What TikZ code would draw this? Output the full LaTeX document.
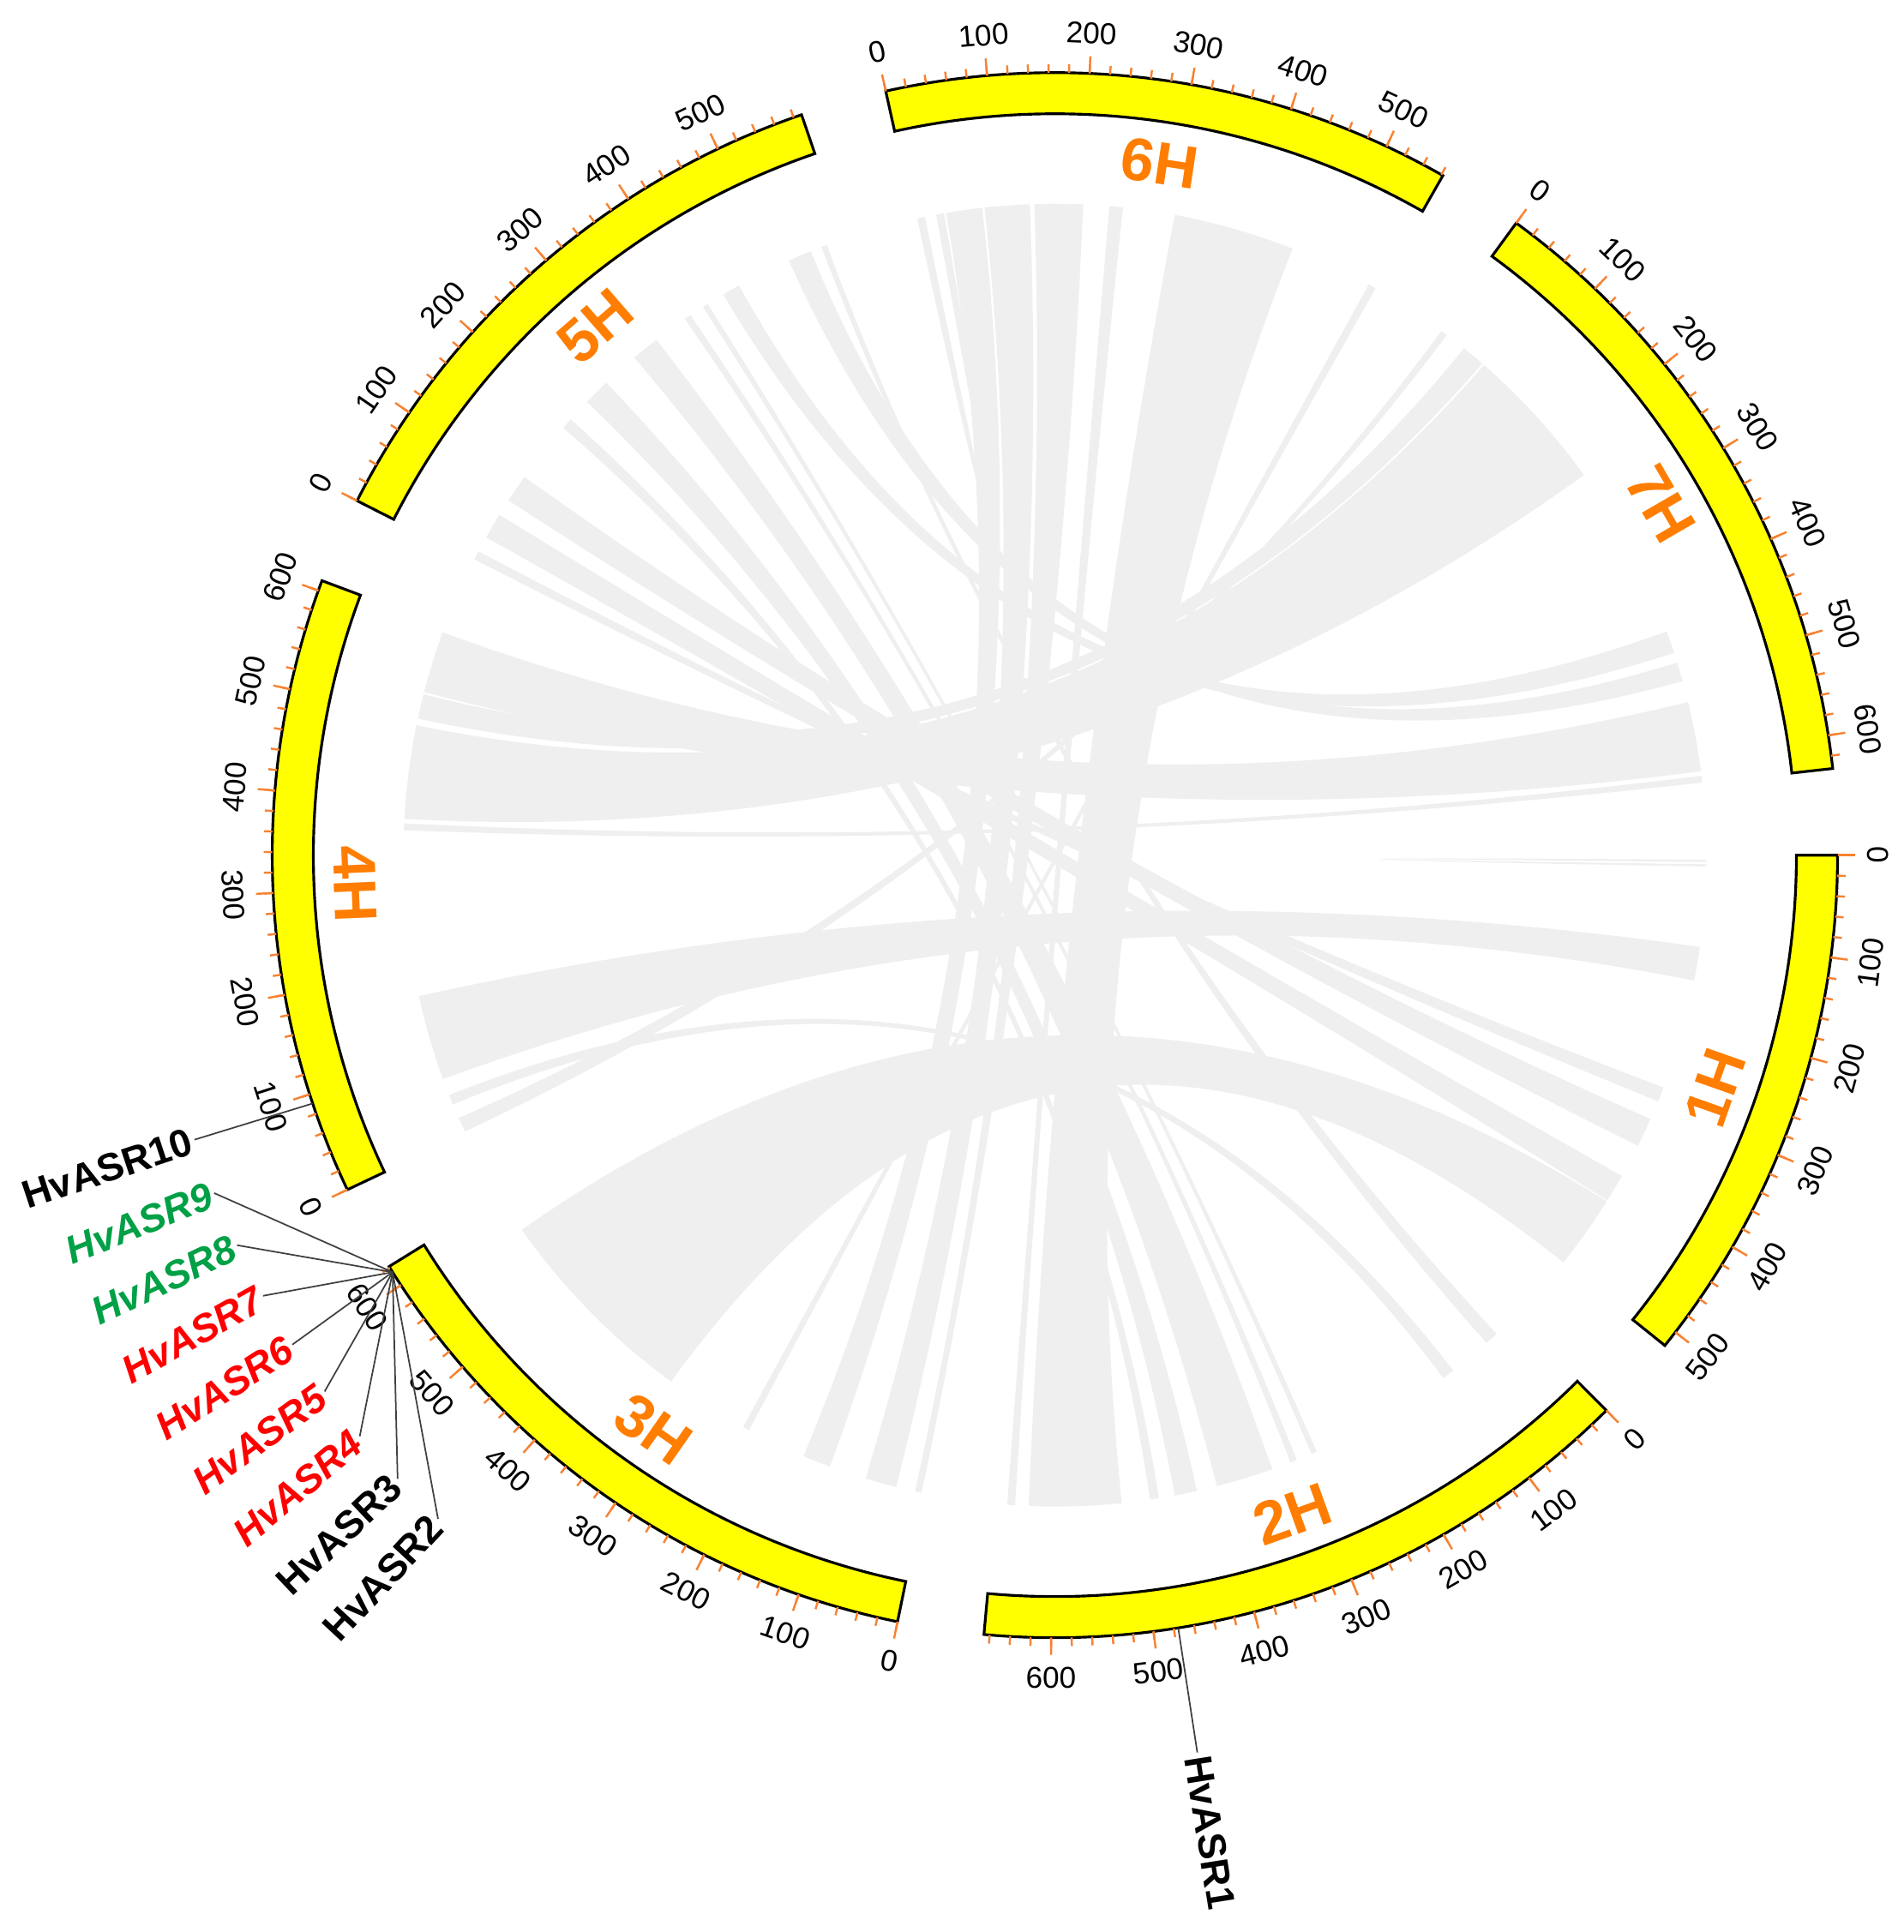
\documentclass[tikz,border=0pt]{standalone}
\usepackage{fontspec}
\setmainfont{Liberation Sans}
\usetikzlibrary{calc}

\definecolor{chrfill}{RGB}{255,255,0}
\definecolor{tickorange}{RGB}{247,130,50}
\definecolor{chrorange}{RGB}{255,125,0}
\definecolor{linkgray}{RGB}{239,239,239}
\definecolor{genegreen}{RGB}{0,160,70}
\definecolor{genered}{RGB}{255,0,0}

\def\mbdeg{0.07512}
\def\rinner{8.65}
\def\router{9.13}
\def\rlink{7.6}
\def\rctrl{2.533}

% link between segment [#1,#2] and segment [#3,#4] (angles)
\newcommand{\ribbon}[4]{%
  \fill[link] (#2:\rlink) .. controls (#2:\rctrl) and (#3:\rctrl) .. (#3:\rlink)
    arc[start angle=#3, end angle=#4, radius=\rlink]
    .. controls (#4:\rctrl) and (#1:\rctrl) .. (#1:\rlink)
    arc[start angle=#1, end angle=#2, radius=\rlink] -- cycle;}

\begin{document}
\begin{tikzpicture}[
  chrom/.style={draw=black,line width=0.9pt,fill=chrfill},
  tickmark/.style={draw=tickorange,line width=0.7pt},
  ticklabel/.style={font=\fontsize{10}{12}\selectfont,inner sep=0pt},
  chrlabel/.style={font=\fontsize{20}{24}\selectfont\bfseries,text=chrorange,inner sep=0pt},
  link/.style={fill=linkgray},
  genelabel/.style={font=\fontsize{13}{15}\selectfont\bfseries,inner sep=1pt},
  geneline/.style={draw=black!75,line width=0.5pt}]

\useasboundingbox (-12.305,-12.563) rectangle (9.905,9.977);

% links
\ribbon{68.6}{79.4}{-92.3}{-84.1}
\ribbon{35.7}{48.8}{168.5}{176.8}
\ribbon{49.0}{51.1}{165.7}{167.9}
\ribbon{-144.9}{-126.1}{-38.7}{-32.1}
\ribbon{7.4}{13.6}{160.0}{165.5}
\ribbon{18.1}{20.1}{119.0}{120.6}
\ribbon{15.5}{17.2}{112.0}{114.1}
\ribbon{-11.1}{-8.1}{-167.5}{-159.9}
\ribbon{-26.5}{-23.9}{144.5}{147.0}
\ribbon{-32.0}{-29.5}{148.5}{150.8}
\ribbon{-22.2}{-20.9}{152.2}{153.0}
\ribbon{-75.6}{-70.5}{127.7}{130.2}
\ribbon{-79.4}{-77.4}{133.5}{135.9}
\ribbon{-48.5}{-47.3}{110.5}{111.0}
\ribbon{-112.7}{-110.2}{96.4}{99.6}
\ribbon{-106.9}{-104.1}{92.2}{96.2}
\ribbon{-102.4}{-101.8}{87.5}{91.8}
\ribbon{-53.4}{-52.3}{-158.4}{-157.5}
\ribbon{53.0}{53.6}{-156.2}{-154.9}
\ribbon{60.5}{61.2}{-118.6}{-118.0}
\ribbon{-66.8}{-66.3}{122.2}{122.7}
\ribbon{-94.2}{-93.5}{84.0}{85.2}
\ribbon{-68.8}{-68.2}{124.0}{124.6}
\ribbon{6.4}{7.0}{177.2}{177.8}
\ribbon{-81.6}{-80.8}{138.0}{139.0}
\ribbon{99.8}{100.5}{101.5}{102.2}
\ribbon{-1.0}{-0.8}{-0.6}{-0.4}

% chromosomes, ticks and labels
\foreach \chr/\chrst/\len/\lastminor/\lastmajor in {1H/0/516.5/500/500, 2H/-45.2/665.6/660/600,
    3H/-101.6/621.5/620/600, 4H/-154.69/610.3/600/600, 5H/-206.93/588.2/580/500,
    6H/-257.52/561.8/560/500, 7H/-306.12/632.6/620/600} {
  \pgfmathsetmacro\chren{\chrst-\len*\mbdeg}
  \pgfmathsetmacro\chrmid{(\chrst+\chren)/2}
  \draw[chrom] (\chrst:\rinner) arc[start angle=\chrst, end angle=\chren, radius=\rinner]
    -- (\chren:\router) arc[start angle=\chren, end angle=\chrst, radius=\router] -- cycle;
  \foreach \p in {0,20,...,\lastminor} {
    \pgfmathsetmacro\a{\chrst-\p*\mbdeg}
    \draw[tickmark] (\a:\router) -- (\a:9.23);
  }
  \foreach \p in {0,100,...,\lastmajor} {
    \pgfmathsetmacro\a{\chrst-\p*\mbdeg}
    \pgfmathsetmacro\rot{(mod(\a+720,360)<180) ? (\a-90) : (\a+90)}
    \draw[tickmark] (\a:\router) -- (\a:9.33);
    \node[ticklabel,rotate=\rot] (t\chr\p) at (\a:9.6) {\p};
  }
  \pgfmathsetmacro\rot{(mod(\chrmid+720,360)<180) ? (\chrmid-90) : (\chrmid+90)}
  \node[chrlabel,rotate=\rot] (\chr) at (\chrmid:8.17) {\chr};
}

% genes
\coordinate (g1) at (-80.93:\router);
\node[genelabel,rotate=-81,anchor=west] (HvASR1) at (-80.98:10.6) {HvASR1};
\draw[geneline] (g1) -- (HvASR1.west);

\coordinate (g10) at (-161.5:\router);
\node[genelabel,rotate=18.3,anchor=east] (HvASR10) at (-161.7:10.57) {HvASR10};
\draw[geneline] (g10) -- (HvASR10.east);

\foreach \g/\la/\col/\shape in {9/-158.1/genegreen/\itshape, 8/-154.5/genegreen/\itshape,
    7/-150.9/genered/\itshape, 6/-147.3/genered/\itshape, 5/-143.7/genered/\itshape,
    4/-140.1/genered/\itshape, 3/-136.5/black/\upshape, 2/-132.9/black/\upshape} {
  \coordinate (g\g) at (-147.8:\router);
  \node[genelabel,text=\col,rotate=\la+180,anchor=east] (HvASR\g) at (\la:10.57) {\shape HvASR\g};
  \draw[geneline] (g\g) -- (HvASR\g.east);
}

\end{tikzpicture}
\end{document}
